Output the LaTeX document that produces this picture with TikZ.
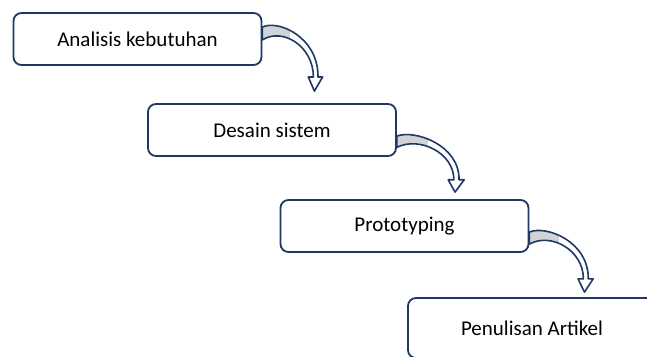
\documentclass[tikz,border=0pt]{standalone}
\usepackage{fontspec}
\setmainfont{Carlito}
\usetikzlibrary{calc}
\definecolor{navy}{HTML}{1F3864}
\definecolor{bandgray}{HTML}{D0D3D8}
\tikzset{
  stagebox/.style={draw=navy, line width=1.8pt, rounded corners=8pt, fill=white,
    minimum width=248pt, minimum height=52pt, inner sep=0pt,
    font=\fontsize{21}{24}\selectfont, text=black},
  bandline/.style={draw=navy, line width=1.6pt, line join=round}
}
\newcommand\ribbonarrow[3]{%
  \begin{scope}[shift={#1}, xscale=#2, yscale=#3]
    \fill[white] (0,0) .. controls (0.3,-0.12) and (1.1,0.15) .. (1.09,0.78) -- (1.18,0.78) -- (1.02,1) -- (0.9,0.78) -- (1.0,0.78) .. controls (1.0,0.3) and (0.4,0.0) .. (0,0.2) -- cycle;
    \begin{scope}
      \clip (0,0) .. controls (0.3,-0.12) and (1.1,0.15) .. (1.09,0.78) -- (1.18,0.78) -- (1.02,1) -- (0.9,0.78) -- (1.0,0.78) .. controls (1.0,0.3) and (0.4,0.0) .. (0,0.2) -- cycle;
      \fill[bandgray] (-0.1,-0.2) rectangle (0.55,0.4);
    \end{scope}
    \draw[bandline] (0,0) .. controls (0.3,-0.12) and (1.1,0.15) .. (1.09,0.78) -- (1.18,0.78) -- (1.02,1) -- (0.9,0.78) -- (1.0,0.78) .. controls (1.0,0.3) and (0.4,0.0) .. (0,0.2) -- cycle;
  \end{scope}}
\begin{document}
\begin{tikzpicture}[x=1pt, y=-1pt]
  \useasboundingbox (0,0) rectangle (647,356);
  \clip (0,0) rectangle (647,356);
  \node[stagebox] (b1) at (137.5,39) {Analisis kebutuhan};
  \node[stagebox] (b2) at (272,130) {Desain sistem};
  \node[stagebox] (b3) at (404.5,226) {Prototyping};
  \node[stagebox, minimum height=60pt] (b4) at (532,328) {Penulisan Artikel};
  \ribbonarrow{($(b1.north east)+(0,15)$)}{51}{64}
  \ribbonarrow{($(b2.north east)+(0,33)$)}{57}{56}
  \ribbonarrow{($(b3.north east)+(0,33)$)}{54}{60}
\end{tikzpicture}
\end{document}
